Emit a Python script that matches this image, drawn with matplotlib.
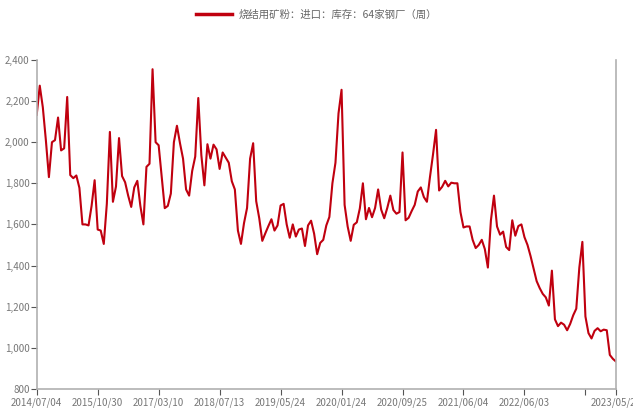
import matplotlib.pyplot as plt
from matplotlib.ticker import FuncFormatter

plt.rcParams['font.family'] = ['Noto Sans CJK SC', 'DejaVu Sans']

series_name = '烧结用矿粉：进口：库存：64家钢厂（周）'

# 库存（万吨），按图中等距采样读取
stock = [
    2133, 2275, 2170, 2010, 1830, 2000, 2010, 2120, 1960, 1970,
    2220, 1840, 1825, 1838, 1778, 1600, 1600, 1595, 1690, 1815,
    1575, 1570, 1505, 1700, 2050, 1710, 1784, 2020, 1835, 1805,
    1740, 1685, 1780, 1812, 1690, 1600, 1880, 1895, 2355, 2000,
    1985, 1830, 1679, 1690, 1750, 2000, 2080, 1995, 1920, 1770,
    1740, 1860, 1930, 2215, 1938, 1790, 1990, 1920, 1988, 1965,
    1870, 1950, 1925, 1900, 1810, 1770, 1570, 1505, 1606, 1680,
    1920, 1995, 1713, 1630, 1520, 1557, 1592, 1625, 1570, 1595,
    1692, 1700, 1600, 1535, 1600, 1541, 1575, 1580, 1495, 1595,
    1618, 1555, 1455, 1510, 1525, 1595, 1636, 1800, 1900, 2140,
    2255, 1695, 1590, 1520, 1598, 1610, 1678, 1800, 1625, 1680,
    1635, 1680, 1770, 1672, 1630, 1680, 1740, 1670, 1652, 1660,
    1950, 1620, 1632, 1665, 1695, 1760, 1780, 1733, 1710, 1830,
    1940, 2060, 1765, 1783, 1812, 1785, 1803, 1800, 1800, 1660,
    1585, 1590, 1590, 1525, 1485, 1500, 1525, 1480, 1390, 1620,
    1740, 1590, 1550, 1565, 1490, 1475, 1620, 1545, 1592, 1600,
    1538, 1500, 1446, 1385, 1324, 1290, 1262, 1245, 1205, 1375,
    1138, 1105, 1122, 1112, 1085, 1116, 1158, 1190, 1390, 1515,
    1152, 1071, 1045, 1082, 1095, 1080, 1088, 1085, 965, 946,
    933,
]

tick_labels = ['2014/07/04', '2015/10/30', '2017/03/10', '2018/07/13',
               '2019/05/24', '2020/01/24', '2020/09/25', '2021/06/04',
               '2022/06/03', '', '2023/05/26']
tick_step = 20

fig = plt.figure(figsize=(6.33, 4.08), dpi=100)
ax = fig.add_axes([0.058, 0.047, 0.915, 0.806])

x = list(range(len(stock)))
ax.plot(x, stock, color='#C0000F', linewidth=1.5, label=series_name)

ax.set_xlim(0, len(stock) - 1)
ax.set_ylim(800, 2400)
ax.set_yticks(range(800, 2401, 200))
ax.yaxis.set_major_formatter(FuncFormatter(lambda v, p: f'{int(v):,}'))

ticks = [i * tick_step for i in range(len(tick_labels) - 1)] + [len(stock) - 1]
ax.set_xticks(ticks)
ax.set_xticklabels(tick_labels)

grey = '#b0b0b0'
for side in ['left', 'bottom', 'right']:
    ax.spines[side].set_color(grey)
    ax.spines[side].set_linewidth(1.2)
ax.spines['top'].set_visible(False)
ax.tick_params(axis='both', colors='#555555', labelcolor='#777777',
               labelsize=7, length=4, width=0.8, direction='out')
ax.tick_params(axis='x', pad=2)
ax.tick_params(axis='y', pad=1)
ax.grid(False)

fig.legend(loc='upper center', bbox_to_anchor=(0.5, 1.0), frameon=False,
           fontsize=7.5, labelcolor='#666666', handlelength=3.5,
           handletextpad=0.6)
for line in fig.legends[0].get_lines():
    line.set_linewidth(2.5)

fig.savefig('out.png', dpi=100)
